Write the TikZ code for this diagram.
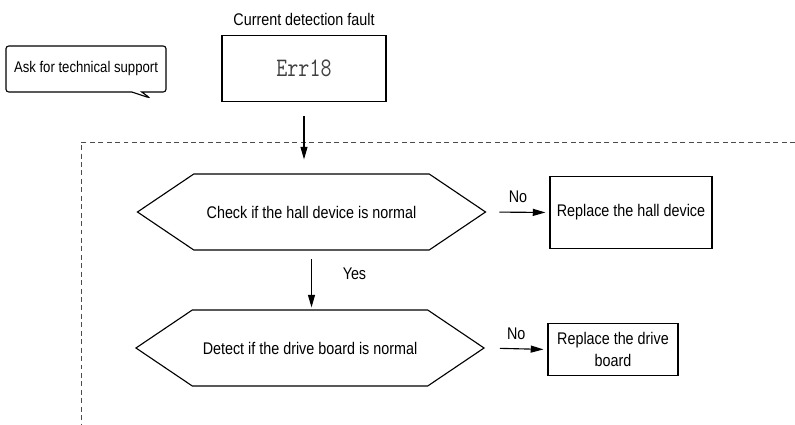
\documentclass[tikz,border=0pt]{standalone}
\usepackage{fontspec}
\setmainfont{Liberation Sans}[FakeStretch=0.85]
\setmonofont{Latin Modern Mono}[FakeStretch=0.8]
\usepackage{xcolor}
\usepackage{tikz}
\usetikzlibrary{arrows.meta,positioning,calc,shapes.symbols,shapes.callouts}

\begin{document}
\begin{tikzpicture}[>={Triangle[length=9pt,width=5pt]}, x=0.025cm, y=-0.025cm,
  font=\fontsize{12}{15.5}\selectfont,
  decision/.style={draw, line width=0.8pt, signal, signal to=west and east, signal pointer angle=68, minimum width=8.7cm, minimum height=1.9cm, inner sep=0pt},
  action/.style={draw, line width=0.8pt, align=center, inner sep=1pt},
  flow/.style={->, line width=0.8pt}]
\useasboundingbox (0,0) rectangle (795,425);
\coordinate (S) at (86,69);
\coordinate (E) at (304,68.5);
\coordinate (H) at (311.5,212);
\coordinate (D) at (310,348);
\coordinate (RH) at (631,212.5);
\coordinate (RD) at (613,349.5);
\node[draw, line width=0.8pt, rectangle callout, rounded corners=2pt, callout absolute pointer={(150,98)}, minimum width=4cm, minimum height=1.15cm, font=\fontsize{11}{13}\selectfont] (support) at (S) {Ask for technical support};
\node[draw, line width=0.8pt, minimum width=4.1cm, minimum height=1.63cm, font=\fontsize{19}{21}\ttfamily, text=black!75] (err) at (E) {Err18};
\node[above=0.12cm of err] (title) {Current detection fault};
\node[decision] (hall) at (H) {Check if the hall device is normal};
\node[decision] (drive) at (D) {Detect if the drive board is normal};
\node[action, minimum width=4.05cm, minimum height=1.78cm] (rhall) at (RH) {Replace the hall device};
\node[action, minimum width=3.25cm, minimum height=1.28cm] (rdrive) at (RD) {Replace the drive\\board};
\draw[black!70, line width=0.6pt, dash pattern=on 3.5pt off 2.5pt] (795,142) -| (81,425);
\draw[flow, shorten <=0.37cm, shorten >=0.35cm] (err.south) -- (err.south |- hall.north);
\draw[flow, shorten <=0.22cm, shorten >=0.05cm] (hall.south) -- (hall.south |- drive.north) node[pos=0.4, right=0.65cm] {Yes};
\draw[flow, shorten <=0.32cm, shorten >=0.1cm] (hall.east) -- (rhall.west) node[midway, above=0.12cm] {No};
\draw[flow, shorten <=0.37cm, shorten >=0.1cm] (drive.east) -- (rdrive.west) node[midway, above=0.1cm] {No};
\end{tikzpicture}
\end{document}
